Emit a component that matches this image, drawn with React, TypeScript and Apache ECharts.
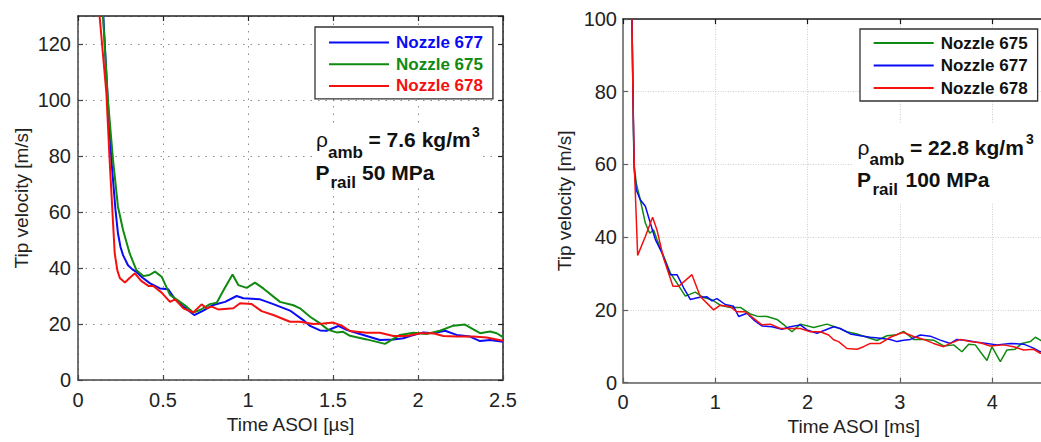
import React, { useEffect, useRef } from "react";
import * as echarts from "echarts";

// ---- Data ----
// Left panel: rho_amb = 7.6 kg/m3, P_rail 50 MPa ; x: Time ASOI [µs]
const left677: [number, number][] = [
  [0.149, 130], [0.173, 102], [0.196, 79], [0.22, 61], [0.235, 52.4], [0.25, 47.5], [0.265, 44.6],
  [0.294, 41], [0.32, 39.5], [0.345, 38.5], [0.38, 36.5], [0.424, 34.5], [0.482, 32.7], [0.531, 32.4],
  [0.571, 28.8], [0.62, 26.2], [0.684, 23.2], [0.737, 24.8], [0.796, 26.8], [0.865, 27.9], [0.933, 30],
  [0.973, 29.2], [1.071, 28.8], [1.149, 27.1], [1.247, 24.8], [1.325, 21.4], [1.365, 19.3], [1.424, 17.7],
  [1.463, 17.6], [1.531, 19.3], [1.58, 17.9], [1.659, 16.4], [1.776, 14.3], [1.855, 14.5], [1.914, 14.9],
  [1.953, 15.7], [2.031, 17], [2.09, 16.7], [2.159, 17.6], [2.227, 16.1], [2.306, 15.5], [2.365, 13.9],
  [2.424, 14.3], [2.5, 13.7],
];
const left675: [number, number][] = [
  [0.147, 130], [0.176, 100], [0.206, 78.6], [0.235, 61.9], [0.265, 53.6], [0.304, 45.2], [0.343, 39.3],
  [0.384, 37.1], [0.42, 37.5], [0.453, 38.7], [0.492, 36.9], [0.541, 30.4], [0.6, 27.9], [0.639, 26.2],
  [0.678, 24.1], [0.718, 25], [0.776, 27.1], [0.816, 27.6], [0.86, 32.5], [0.909, 37.7], [0.943, 33.9],
  [0.992, 32.9], [1.041, 34.8], [1.09, 32.7], [1.188, 27.9], [1.267, 26.7], [1.306, 25.6], [1.365, 22.6],
  [1.424, 20.2], [1.473, 17.9], [1.522, 17], [1.56, 17.2], [1.6, 15.8], [1.698, 14.5], [1.806, 12.9],
  [1.894, 16.1], [1.973, 16.9], [2.051, 16.4], [2.129, 17.6], [2.208, 19.4], [2.276, 19.8], [2.365, 16.7],
  [2.424, 17.3], [2.463, 16.7], [2.5, 15.3],
];
const left678: [number, number][] = [
  [0.127, 130], [0.167, 102.4], [0.186, 78.6], [0.202, 60.7], [0.216, 45.2], [0.232, 39], [0.247, 36.3],
  [0.276, 34.8], [0.305, 36.5], [0.335, 38.1], [0.37, 35.5], [0.414, 33.6], [0.443, 33.6], [0.492, 31.2],
  [0.541, 27.9], [0.571, 28.8], [0.62, 25.6], [0.678, 24.1], [0.727, 27], [0.757, 25.6], [0.786, 26.2],
  [0.825, 25.2], [0.914, 25.6], [0.953, 27.4], [1.022, 27.1], [1.08, 24.6], [1.149, 23.2], [1.247, 20.8],
  [1.306, 20.8], [1.384, 20], [1.443, 20.2], [1.502, 20.5], [1.551, 19.4], [1.6, 17.5], [1.698, 16.9],
  [1.776, 16.9], [1.855, 15.7], [1.933, 15.7], [2.012, 16.7], [2.09, 16.7], [2.149, 15.7], [2.227, 15.5],
  [2.325, 15.5], [2.404, 15.2], [2.5, 14],
];

// Right panel: rho_amb = 22.8 kg/m3, P_rail 100 MPa ; x: Time ASOI [ms]
const right675: [number, number][] = [
  [0.097, 100], [0.115, 66], [0.122, 59.4], [0.144, 54.8], [0.187, 50.3], [0.242, 43.9], [0.289, 41.1],
  [0.332, 42], [0.368, 39.4], [0.44, 34.8], [0.512, 30.2], [0.585, 27.4], [0.675, 23.8], [0.783, 24.9],
  [0.873, 23.4], [0.964, 22.8], [1.054, 21.3], [1.162, 20.7], [1.271, 20.7], [1.379, 18.9], [1.452, 18.3],
  [1.56, 18.2], [1.668, 17.4], [1.758, 15.6], [1.831, 14], [1.921, 16.1], [2.066, 15.2], [2.21, 16.1],
  [2.318, 15.2], [2.426, 14], [2.535, 13.4], [2.643, 12.5], [2.751, 11.6], [2.86, 12.9], [2.968, 13.2],
  [3.04, 14.1], [3.149, 11.9], [3.257, 11.9], [3.365, 11.7], [3.474, 10.1], [3.582, 10.4], [3.672, 8.5],
  [3.745, 10.6], [3.817, 10.4], [3.871, 8.5], [3.943, 6.1], [3.997, 9.9], [4.088, 5.8], [4.16, 9],
  [4.25, 9.2], [4.322, 10.8], [4.413, 11.3], [4.467, 12.5], [4.521, 11.7], [4.56, 11],
];
const right677: [number, number][] = [
  [0.097, 100], [0.115, 68], [0.122, 58.5], [0.144, 53], [0.187, 50.3], [0.242, 48.5], [0.296, 43.9],
  [0.35, 39.4], [0.422, 35.7], [0.512, 29.7], [0.585, 29.7], [0.657, 26.1], [0.729, 22.9], [0.819, 23.4],
  [0.91, 23.6], [0.964, 22.5], [1.018, 23.1], [1.108, 21.5], [1.198, 21], [1.253, 18.2], [1.343, 19.1],
  [1.415, 17.3], [1.505, 15.6], [1.614, 15.4], [1.722, 14.7], [1.813, 15.4], [1.921, 15.9], [1.994, 14.5],
  [2.102, 13.6], [2.192, 14.5], [2.282, 15.4], [2.354, 14.9], [2.463, 13.4], [2.571, 12.9], [2.679, 12.5],
  [2.787, 12.2], [2.896, 11.9], [2.968, 11.3], [3.04, 11.7], [3.113, 11.9], [3.221, 13.1], [3.329, 12.8],
  [3.438, 11.7], [3.546, 10.8], [3.618, 11.9], [3.726, 11.6], [3.835, 11.1], [3.943, 10.8], [4.051, 10.4],
  [4.196, 10.8], [4.34, 10.6], [4.449, 9.5], [4.521, 8.5], [4.56, 8.8],
];
const right678: [number, number][] = [
  [0.097, 100], [0.11, 75], [0.122, 60], [0.159, 35], [0.242, 40.2], [0.321, 45.5], [0.368, 42],
  [0.44, 34.2], [0.494, 30.1], [0.541, 26.5], [0.603, 26.5], [0.747, 29.7], [0.837, 23.7], [0.928, 21.4],
  [0.982, 20], [1.054, 21.3], [1.162, 20.9], [1.235, 19.5], [1.325, 19.5], [1.415, 17.7], [1.505, 15.9],
  [1.596, 16.1], [1.705, 14.9], [1.813, 14.9], [1.921, 14.9], [2.03, 14], [2.138, 14], [2.228, 13.1],
  [2.282, 11.8], [2.336, 11.3], [2.426, 9.4], [2.535, 9.2], [2.607, 9.9], [2.679, 10.8], [2.787, 10.8],
  [2.896, 12.5], [3.004, 13.6], [3.04, 13.8], [3.149, 12.7], [3.257, 11.9], [3.365, 10.8], [3.474, 9.9],
  [3.546, 10.8], [3.654, 11.9], [3.763, 11.3], [3.871, 11], [3.979, 10.1], [4.124, 10.4], [4.232, 9.9],
  [4.34, 9], [4.449, 9.2], [4.521, 8.1], [4.56, 8],
];

const leftXRange = [0, 2.5];
const leftXStep = 0.5;
const leftYRange = [0, 130];
const rightXRange = [0, 5];
const rightXStep = 1;
const rightYRange = [0, 100];
const yStep = 20;

const seriesNames = ["Nozzle 677", "Nozzle 675", "Nozzle 678"];
const xNameLeft = "Time ASOI [µs]";
const xNameRight = "Time ASOI [ms]";
const yName = "Tip velocity [m/s]";

const BLUE = "#0a0af5";
const GREEN = "#108a10";
const RED = "#f51010";
const FONT = "'Liberation Sans', Arial, Helvetica, sans-serif";

export default function App() {
  const ref = useRef<HTMLDivElement>(null);
  useEffect(() => {
    if (!ref.current) return;
    const chart = echarts.init(ref.current, undefined, { renderer: "svg" });

    const tickLabel = (margin: number) => ({
      fontFamily: FONT,
      fontSize: 20,
      color: "#222",
      margin,
    });
    const nameStyle = { fontFamily: FONT, fontSize: 19, color: "#222" };

    const mainX = (gi: number, range: number[], step: number, name: string, lineColor: string, gridColor: string, dash: number[], margin: number, showMax: boolean) => ({
      type: "value",
      gridIndex: gi,
      min: range[0],
      max: range[1],
      interval: step,
      position: "bottom",
      name,
      nameLocation: "middle",
      nameGap: 34,
      nameTextStyle: nameStyle,
      axisLine: { show: true, onZero: false, lineStyle: { color: lineColor, width: 1.5 } },
      axisTick: { show: true, inside: true, length: 5, lineStyle: { color: lineColor, width: 1.2 } },
      axisLabel: { ...tickLabel(margin), showMaxLabel: showMax },
      splitLine: { show: true, lineStyle: { color: gridColor, width: 1, type: dash } },
    });
    const sideX = (gi: number, range: number[], step: number, lineColor: string) => ({
      type: "value",
      gridIndex: gi,
      min: range[0],
      max: range[1],
      interval: step,
      position: "top",
      axisLine: { show: true, onZero: false, lineStyle: { color: lineColor, width: 1.5 } },
      axisTick: { show: true, inside: true, length: 5, lineStyle: { color: lineColor, width: 1.2 } },
      axisLabel: { show: false },
      splitLine: { show: false },
    });
    const mainY = (gi: number, range: number[], lineColor: string, gridColor: string, dash: number[], margin: number, gap: number) => ({
      type: "value",
      gridIndex: gi,
      min: range[0],
      max: range[1],
      interval: yStep,
      position: "left",
      name: yName,
      nameLocation: "middle",
      nameGap: gap,
      nameTextStyle: nameStyle,
      axisLine: { show: true, onZero: false, lineStyle: { color: lineColor, width: 1.5 } },
      axisTick: { show: true, inside: true, length: 5, lineStyle: { color: lineColor, width: 1.2 } },
      axisLabel: { ...tickLabel(margin), showMaxLabel: range[1] % yStep === 0 },
      splitLine: { show: true, lineStyle: { color: gridColor, width: 1, type: dash } },
    });
    const sideY = (gi: number, range: number[], lineColor: string) => ({
      type: "value",
      gridIndex: gi,
      min: range[0],
      max: range[1],
      interval: yStep,
      position: "right",
      axisLine: { show: true, onZero: false, lineStyle: { color: lineColor, width: 1.5 } },
      axisTick: { show: true, inside: true, length: 5, lineStyle: { color: lineColor, width: 1.2 } },
      axisLabel: { show: false },
      splitLine: { show: false },
    });

    const line = (name: string, data: [number, number][], color: string, xi: number, yi: number, width: number) => ({
      type: "line",
      name,
      data,
      xAxisIndex: xi,
      yAxisIndex: yi,
      symbol: "none",
      color,
      lineStyle: { color, width },
      z: 3,
    });

    const legendText = { fontFamily: FONT, fontWeight: "bold", fontSize: 17, padding: [0, 0, 0, 2] };

    const txt = (text: string, x: number, y: number, size: number, weight = "bold") => ({
      type: "text",
      z: 10,
      style: {
        text,
        x,
        y,
        fill: "#111",
        fontFamily: FONT,
        fontSize: size,
        fontWeight: weight,
        align: "left",
        verticalAlign: "middle",
      },
    });

    const legendBase = {
      orient: "vertical",
      selectedMode: false,
      itemWidth: 60,
      itemHeight: 14,
      borderColor: "#333",
      borderWidth: 1.3,
      borderRadius: 0,
      backgroundColor: "#fff",
      itemStyle: { opacity: 0, color: "transparent", borderWidth: 0 },
    };

    chart.setOption({
      animation: false,
      backgroundColor: "#fff",
      grid: [
        { left: 78, top: 16, width: 425, height: 364, containLabel: false },
        { left: 623, top: 19, width: 461.5, height: 363.7, containLabel: false },
      ],
      xAxis: [
        mainX(0, leftXRange, leftXStep, xNameLeft, "#444", "#8a8a8a", [1.5, 6], 10, true),
        sideX(0, leftXRange, leftXStep, "#222"),
        mainX(1, rightXRange, rightXStep, xNameRight, "#606060", "#cfcfcf", [1, 1.5], 9, false),
        sideX(1, rightXRange, rightXStep, "#1a1a1a"),
      ],
      yAxis: [
        mainY(0, leftYRange, "#444", "#8a8a8a", [1.5, 6], 7, 47),
        sideY(0, leftYRange, "#222"),
        mainY(1, rightYRange, "#606060", "#cfcfcf", [1, 1.5], 6, 49),
        sideY(1, rightYRange, "#606060"),
      ],
      legend: [
        {
          ...legendBase,
          left: 315,
          top: 27,
          itemGap: 4.7,
          padding: [7, 10, 4.5, 13],
          textStyle: legendText,
          data: [
            { name: seriesNames[0], textStyle: { color: BLUE } },
            { name: seriesNames[1], textStyle: { color: GREEN } },
            { name: seriesNames[2], textStyle: { color: RED } },
          ],
        },
        {
          ...legendBase,
          left: 860,
          top: 29,
          itemGap: 5.5,
          padding: [5.5, 10, 4.5, 12.7],
          textStyle: { ...legendText, color: "#111" },
          data: [seriesNames[1], seriesNames[0], seriesNames[2]],
        },
      ],
      graphic: [
        { type: "rect", z: 1, shape: { x: 313, y: 127, width: 170, height: 61 }, style: { fill: "#fff" } },
        { type: "rect", z: 1, shape: { x: 853, y: 123, width: 200, height: 80 }, style: { fill: "#fff" } },
        txt("ρ", 316, 139.8, 21, "normal"),
        txt("amb", 328, 152.4, 17),
        txt("= 7.6 kg/m", 368.5, 139.8, 21),
        txt("3", 472, 132.2, 14),
        txt("P", 315.5, 172.1, 21),
        txt("rail", 330.5, 182.4, 17),
        txt("50 MPa", 362, 172.1, 21),
        txt("ρ", 857.5, 147.8, 21, "normal"),
        txt("amb", 869.5, 159.8, 17),
        txt("= 22.8 kg/m", 910, 147.8, 21),
        txt("3", 1026, 139, 14),
        txt("P", 857, 179.6, 21),
        txt("rail", 872.5, 189.1, 17),
        txt("100 MPa", 905.5, 179.6, 21),
      ],
      series: [
        line(seriesNames[0], left677, BLUE, 0, 0, 2),
        line(seriesNames[1], left675, GREEN, 0, 0, 2),
        line(seriesNames[2], left678, RED, 0, 0, 2),
        line(seriesNames[1], right675, GREEN, 2, 2, 1.5),
        line(seriesNames[0], right677, BLUE, 2, 2, 1.5),
        line(seriesNames[2], right678, RED, 2, 2, 1.5),
      ],
    });
    return () => chart.dispose();
  }, []);

  return (
    <div
      style={{
        position: "fixed",
        left: 0,
        top: 0,
        width: 1041,
        height: 442,
        overflow: "hidden",
        background: "#fff",
      }}
    >
      <div ref={ref} style={{ width: 1100, height: 442 }} />
    </div>
  );
}
